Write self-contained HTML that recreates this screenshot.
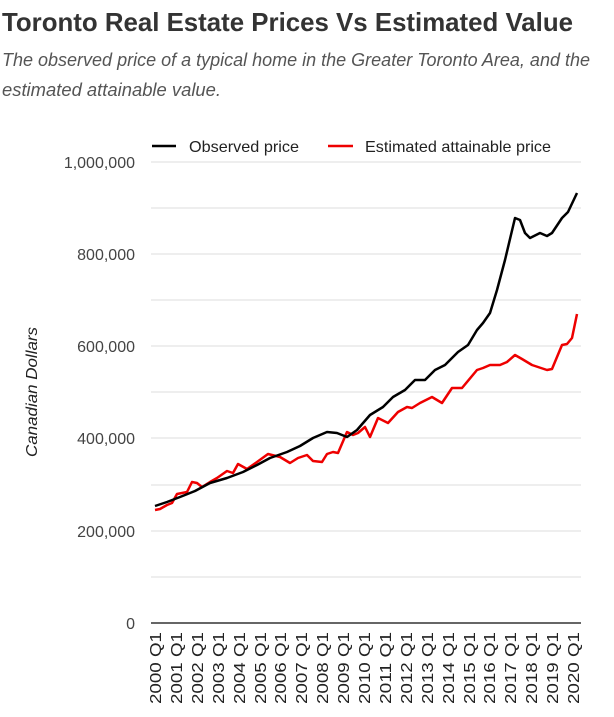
<!DOCTYPE html>
<html><head><meta charset="utf-8"><style>body{margin:0;background:#fff}svg{display:block}</style></head><body>
<svg width="614" height="717" xmlns="http://www.w3.org/2000/svg" font-family="Liberation Sans, sans-serif">
<text x="2" y="31" font-size="26" font-weight="bold" fill="#333" textLength="571" lengthAdjust="spacingAndGlyphs">Toronto Real Estate Prices Vs Estimated Value</text>
<text x="2" y="66" font-size="18" font-style="italic" fill="#555" textLength="588" lengthAdjust="spacingAndGlyphs">The observed price of a typical home in the Greater Toronto Area, and the</text>
<text x="2" y="96" font-size="18" font-style="italic" fill="#555" textLength="219" lengthAdjust="spacingAndGlyphs">estimated attainable value.</text>
<line x1="152" y1="146" x2="176" y2="146" stroke="#000" stroke-width="2.5"/>
<text x="189" y="152" font-size="16" fill="#222" textLength="110" lengthAdjust="spacingAndGlyphs">Observed price</text>
<line x1="328" y1="146" x2="353" y2="146" stroke="#e00" stroke-width="2.5"/>
<text x="365" y="152" font-size="16" fill="#222" textLength="186" lengthAdjust="spacingAndGlyphs">Estimated attainable price</text>
<g stroke="#ddd" stroke-width="1">
<line x1="151" x2="581" y1="162" y2="162"/><line x1="151" x2="581" y1="208" y2="208"/>
<line x1="151" x2="581" y1="254" y2="254"/><line x1="151" x2="581" y1="300" y2="300"/>
<line x1="151" x2="581" y1="346" y2="346"/><line x1="151" x2="581" y1="392" y2="392"/>
<line x1="151" x2="581" y1="438" y2="438"/><line x1="151" x2="581" y1="485" y2="485"/>
<line x1="151" x2="581" y1="531" y2="531"/><line x1="151" x2="581" y1="577" y2="577"/>
</g>
<line x1="151" x2="581" y1="623" y2="623" stroke="#333" stroke-width="1.5"/>
<g font-size="16" fill="#444" text-anchor="end">
<text x="135" y="168">1,000,000</text><text x="135" y="260">800,000</text>
<text x="135" y="352">600,000</text><text x="135" y="444">400,000</text>
<text x="135" y="537">200,000</text><text x="135" y="629">0</text>
</g>
<text transform="translate(37,392) rotate(-90)" font-size="16" font-style="italic" fill="#222" text-anchor="middle" textLength="130" lengthAdjust="spacingAndGlyphs">Canadian Dollars</text>
<polyline fill="none" stroke="#e00" stroke-width="2.5" stroke-linejoin="round" points="155,510 160,509 167,505 172,503 177,494 187,492 192,482 197,483 202,487 210,482 217,478 227,471 233,473 238,464 247,469 257,462 268,454 280,457 290,463 298,458 307,455 313,461 322,462 327,454 333,452 338,453 347,432 353,435 358,433 365,427 370,437 378,418 388,423 398,412 407,407 412,408 420,403 432,397 442,403 452,388 462,388 477,370 483,368 490,365 500,365 507,362 515,355 522,359 532,365 538,367 547,370 552,369 562,345 567,344 572,338 577,314"/>
<polyline fill="none" stroke="#000" stroke-width="2.5" stroke-linejoin="round" points="155,506 167,502 180,497 195,491 210,483 227,478 243,472 257,465 270,458 287,452 300,446 313,438 327,432 337,433 347,437 357,430 370,415 383,407 393,397 405,390 415,380 425,380 435,370 445,365 458,352 468,345 477,330 483,323 490,313 497,290 505,260 515,218 520,220 525,233 530,238 540,233 547,236 552,233 562,218 568,212 577,193"/>
<g font-size="16" fill="#222" text-anchor="end">
<text transform="translate(161,632) rotate(-90)" textLength="72" lengthAdjust="spacingAndGlyphs">2000 Q1</text>
<text transform="translate(182,632) rotate(-90)" textLength="72" lengthAdjust="spacingAndGlyphs">2001 Q1</text>
<text transform="translate(203,632) rotate(-90)" textLength="72" lengthAdjust="spacingAndGlyphs">2002 Q1</text>
<text transform="translate(224,632) rotate(-90)" textLength="72" lengthAdjust="spacingAndGlyphs">2003 Q1</text>
<text transform="translate(245,632) rotate(-90)" textLength="72" lengthAdjust="spacingAndGlyphs">2004 Q1</text>
<text transform="translate(266,632) rotate(-90)" textLength="72" lengthAdjust="spacingAndGlyphs">2005 Q1</text>
<text transform="translate(286,632) rotate(-90)" textLength="72" lengthAdjust="spacingAndGlyphs">2006 Q1</text>
<text transform="translate(307,632) rotate(-90)" textLength="72" lengthAdjust="spacingAndGlyphs">2007 Q1</text>
<text transform="translate(328,632) rotate(-90)" textLength="72" lengthAdjust="spacingAndGlyphs">2008 Q1</text>
<text transform="translate(349,632) rotate(-90)" textLength="72" lengthAdjust="spacingAndGlyphs">2009 Q1</text>
<text transform="translate(370,632) rotate(-90)" textLength="72" lengthAdjust="spacingAndGlyphs">2010 Q1</text>
<text transform="translate(391,632) rotate(-90)" textLength="72" lengthAdjust="spacingAndGlyphs">2011 Q1</text>
<text transform="translate(412,632) rotate(-90)" textLength="72" lengthAdjust="spacingAndGlyphs">2012 Q1</text>
<text transform="translate(433,632) rotate(-90)" textLength="72" lengthAdjust="spacingAndGlyphs">2013 Q1</text>
<text transform="translate(454,632) rotate(-90)" textLength="72" lengthAdjust="spacingAndGlyphs">2014 Q1</text>
<text transform="translate(475,632) rotate(-90)" textLength="72" lengthAdjust="spacingAndGlyphs">2015 Q1</text>
<text transform="translate(495,632) rotate(-90)" textLength="72" lengthAdjust="spacingAndGlyphs">2016 Q1</text>
<text transform="translate(516,632) rotate(-90)" textLength="72" lengthAdjust="spacingAndGlyphs">2017 Q1</text>
<text transform="translate(537,632) rotate(-90)" textLength="72" lengthAdjust="spacingAndGlyphs">2018 Q1</text>
<text transform="translate(558,632) rotate(-90)" textLength="72" lengthAdjust="spacingAndGlyphs">2019 Q1</text>
<text transform="translate(579,632) rotate(-90)" textLength="72" lengthAdjust="spacingAndGlyphs">2020 Q1</text>
</g>
</svg>
</body></html>
